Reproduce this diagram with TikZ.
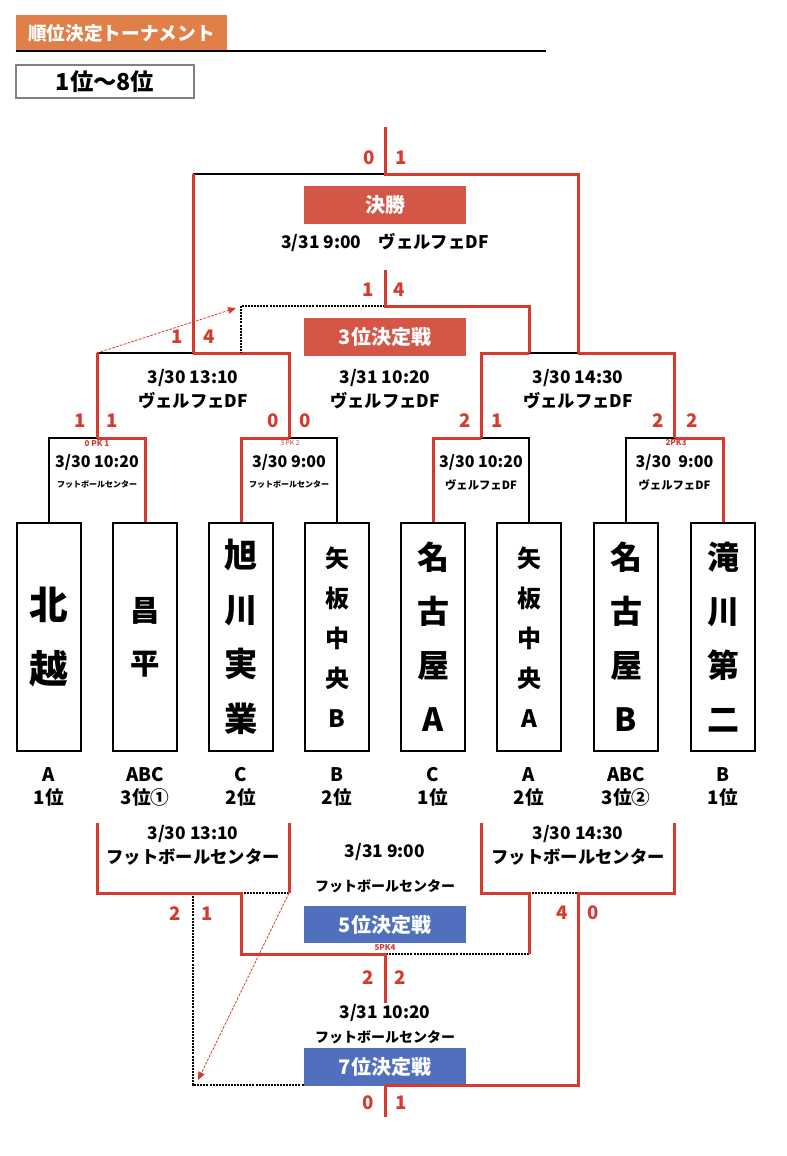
\documentclass[tikz,border=0pt]{standalone}
\usepackage{fontspec}
\setmainfont{Noto Sans CJK JP}
\usetikzlibrary{arrows.meta}
\definecolor{titleorange}{RGB}{224,128,72}
\definecolor{linered}{RGB}{214,58,46}
\definecolor{boxred}{RGB}{211,86,70}
\definecolor{boxblue}{RGB}{80,112,190}
\begin{document}
\begin{tikzpicture}[x=0.75pt,y=-0.75pt,
	redline/.style={draw=linered,line width=2.25pt},
	blackline/.style={draw=black,line width=1.5pt},
	dotline/.style={draw=black,line width=1.2pt,dash pattern=on 1.5pt off 0.8pt},
	lossline/.style={draw=linered,line width=0.6pt,dash pattern=on 2pt off 1pt,-{Triangle[length=6pt,width=5pt]}},
	score/.style={text=linered,font=\bfseries\fontsize{14}{14}\selectfont},
	pk/.style={text=linered,inner sep=0pt,font=\bfseries\fontsize{6}{6}\selectfont},
	team/.style={draw,line width=1.5pt,minimum width=48pt,minimum height=171pt,inner sep=0pt,align=center},
	rank/.style={align=center,font=\bfseries\fontsize{14}{17}\selectfont},
	info/.style={align=center,font=\bfseries\fontsize{13}{18}\selectfont},
	leafdate/.style={font=\bfseries\fontsize{12}{12}\selectfont},
	leafplace/.style={font=\bfseries\fontsize{6}{6}\selectfont},
	leafvenue/.style={font=\bfseries\fontsize{8.5}{8.5}\selectfont},
	midplace/.style={font=\bfseries\fontsize{10.5}{10.5}\selectfont},
	matchbox/.style={minimum width=121.5pt,minimum height=28pt,inner sep=0pt,text=white,font=\bfseries\fontsize{15}{15}\selectfont}]
	\useasboundingbox (0,0) rectangle (786,1156);

	% header
	\node[fill=titleorange,text=white,minimum width=158pt,minimum height=27pt,inner sep=0pt,font=\bfseries\fontsize{14}{14}\selectfont] (title) at (121.5,33) {順位決定トーナメント};
	\coordinate (ruleEnd) at (546,52);
	\draw[line width=1.5pt] (title.south west) -- (title.south west -| ruleEnd);
	\node[draw=gray,line width=1.5pt,minimum width=133.5pt,minimum height=24.75pt,inner sep=0pt,font=\bfseries\fontsize{17.5}{17.5}\selectfont] (range) at (105,81.5) {1位〜8位};

	% teams
	\node[team,font=\bfseries\fontsize{29}{48}\selectfont] (t1) at (49,637) {北\\越};
	\node[team,font=\bfseries\fontsize{22}{40}\selectfont] (t2) at (145,637) {昌\\平};
	\node[team,font=\bfseries\fontsize{25}{41}\selectfont] (t3) at (241,637) {旭\\川\\実\\業};
	\node[team,font=\bfseries\fontsize{18}{30}\selectfont] (t4) at (337,637) {矢\\板\\中\\央\\B};
	\node[team,font=\bfseries\fontsize{24}{40.5}\selectfont] (t5) at (433,637) {名\\古\\屋\\A};
	\node[team,font=\bfseries\fontsize{18}{30}\selectfont] (t6) at (529,637) {矢\\板\\中\\央\\A};
	\node[team,font=\bfseries\fontsize{24}{40.5}\selectfont] (t7) at (626,637) {名\\古\\屋\\B};
	\node[team,font=\bfseries\fontsize{24}{40.5}\selectfont] (t8) at (723,637) {滝\\川\\第\\二};

	\node[rank] (r1) at (49,787) {A\\1位};
	\node[rank] (r2) at (145,787) {ABC\\3位①};
	\node[rank] (r3) at (241,787) {C\\2位};
	\node[rank] (r4) at (337,787) {B\\2位};
	\node[rank] (r5) at (433,787) {C\\1位};
	\node[rank] (r6) at (529,787) {A\\2位};
	\node[rank] (r7) at (626,787) {ABC\\3位②};
	\node[rank] (r8) at (723,787) {B\\1位};

	% bracket points
	\coordinate (l1) at (97,438);
	\coordinate (l2) at (289,438);
	\coordinate (l3) at (481,438);
	\coordinate (l4) at (674.5,438);
	\coordinate (s1) at (193,353);
	\coordinate (s2) at (578,353);
	\coordinate (f) at (385,174);
	\coordinate (fTop) at (385,127);
	\coordinate (th) at (385,306);
	\coordinate (thTop) at (385,270);
	\coordinate (d1) at (241,353);
	\coordinate (d3) at (529,353);
	\coordinate (u1) at (97,823);
	\coordinate (u2) at (289,823);
	\coordinate (u3) at (481,823);
	\coordinate (u4) at (674.5,823);
	\coordinate (k1) at (241,893);
	\coordinate (k3) at (529,893);
	\coordinate (k4) at (578,893);
	\coordinate (lowL) at (193,893);
	\coordinate (five) at (385,954);
	\coordinate (fiveOut) at (385,1003);
	\coordinate (seven) at (385,1085);
	\coordinate (sevenOut) at (385,1117);
	\coordinate (lossA) at (236,308);
	\coordinate (lossB) at (198,1080);

	% first round
	\draw[blackline] (t1.north) |- (l1);
	\draw[redline] (l1) -| (t2.north);
	\draw[blackline] (l2) -| (t4.north);
	\draw[redline] (t3.north) |- (l2);
	\draw[blackline] (l3) -| (t6.north);
	\draw[redline] (t5.north) |- (l3);
	\draw[blackline] (t7.north) |- (l4);
	\draw[redline] (l4) -| (t8.north);

	% semi finals, final, 3rd place
	\draw[blackline] (l1 |- s1) -- (s1);
	\draw[redline] (l1) -- (l1 |- s1);
	\draw[redline] (s1) -| (l2);
	\draw[blackline] (d3) -- (s2);
	\draw[redline] (l3) |- (d3);
	\draw[redline] (s2) -| (l4);
	\draw[blackline] (s1 |- f) -- (f);
	\draw[redline] (s1) -- (s1 |- f);
	\draw[redline] (fTop) -- (f) -| (s2);
	\draw[dotline] (th) -| (d1);
	\draw[redline] (thTop) -- (th) -| (d3);
	\draw[lossline] (l1 |- s1) -- (lossA);

	% 5th and 7th place
	\draw[dotline] (k1) -- (u2 |- k1);
	\draw[dotline] (lowL) |- (seven);
	\draw[dotline] (k3 |- five) -- (five);
	\draw[dotline] (k3) -- (k4);
	\draw[redline] (u1) |- (k1) |- (five) -- (fiveOut);
	\draw[redline] (u2) -- (u2 |- k1);
	\draw[redline] (u3) |- (k3) -- (k3 |- five);
	\draw[redline] (u4) |- (k4) |- (seven) -- (sevenOut);
	\draw[lossline] (u2 |- k1) -- (lossB);

	% match titles and info
	\node[matchbox,fill=boxred] (final) at (385,205) {決勝};
	\node[info] (finalInfo) at (385,242) {3/31 9:00　ヴェルフェDF};
	\node[matchbox,fill=boxred] (third) at (385,337) {3位決定戦};
	\node[info] (thirdInfo) at (385,389) {3/31 10:20\\ヴェルフェDF};
	\node[info] (semiLInfo) at (193,389) {3/30 13:10\\ヴェルフェDF};
	\node[info] (semiRInfo) at (578,389) {3/30 14:30\\ヴェルフェDF};

	\node[leafdate] (date1) at (97,462) {3/30 10:20};
	\node[leafplace] (place1) at (97,485) {フットボールセンター};
	\node[leafdate] (date2) at (289,462) {3/30 9:00};
	\node[leafplace] (place2) at (289,485) {フットボールセンター};
	\node[leafdate] (date3) at (481,462) {3/30 10:20};
	\node[leafvenue] (place3) at (481,485) {ヴェルフェDF};
	\node[leafdate] (date4) at (674.5,462) {3/30\ \ 9:00};
	\node[leafvenue] (place4) at (674.5,485) {ヴェルフェDF};

	\node[info] (lowLInfo) at (193,845) {3/30 13:10\\フットボールセンター};
	\node[info] (lowRInfo) at (578,845) {3/30 14:30\\フットボールセンター};
	\node[info] (fifthDate) at (385,852) {3/31 9:00};
	\node[midplace] (fifthPlace) at (385,886) {フットボールセンター};
	\node[matchbox,fill=boxblue] (fifth) at (385,924.5) {5位決定戦};
	\node[info] (seventhDate) at (385,1013) {3/31 10:20};
	\node[midplace] (seventhPlace) at (385,1037) {フットボールセンター};
	\node[matchbox,fill=boxblue] (seventh) at (385,1067) {7位決定戦};
	\draw[redline] (seven -| k4) -- (seven);

	% scores
	\node[score] at (369,158) {0};
	\node[score] at (401,158) {1};
	\node[score] at (368,290) {1};
	\node[score] at (399,290) {4};
	\node[score] at (177,337) {1};
	\node[score] at (209,337) {4};
	\node[score] at (80,421) {1};
	\node[score] at (112,421) {1};
	\node[score] at (273,421) {0};
	\node[score] at (305,421) {0};
	\node[score] at (465,421) {2};
	\node[score] at (497,421) {1};
	\node[score] at (658,421) {2};
	\node[score] at (692,421) {2};
	\node[score] at (175,914) {2};
	\node[score] at (207,914) {1};
	\node[score] at (562,913) {4};
	\node[score] at (593,913) {0};
	\node[score] at (368,978) {2};
	\node[score] at (400,978) {2};
	\node[score] at (368,1103) {0};
	\node[score] at (401,1103) {1};
	\node[pk] at (97,444) {0 PK 1};
	\node[pk,font=\fontsize{5}{5}\selectfont] at (290,443) {3 PK 2};
	\node[pk] at (676,443) {2PK3};
	\node[pk] at (385,948) {5PK4};
\end{tikzpicture}
\end{document}
